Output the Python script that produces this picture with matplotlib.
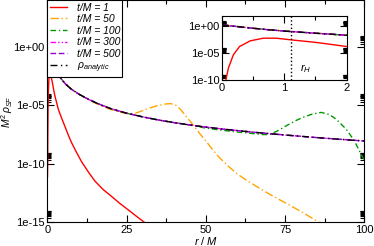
import numpy as np
import matplotlib
matplotlib.use("Agg")
import matplotlib.pyplot as plt
from matplotlib.ticker import FixedLocator, FuncFormatter, MultipleLocator

plt.rcParams['font.family'] = ['Liberation Sans', 'DejaVu Sans']
plt.rcParams['mathtext.fontset'] = 'custom'
plt.rcParams['mathtext.rm'] = 'Liberation Sans'
plt.rcParams['mathtext.it'] = 'Liberation Sans:italic'

# --------------------------------------------------
# Data (log10 of M^2 rho_SF)
# --------------------------------------------------
r_t1 = [0, 0.03, 0.06, 0.1, 0.18, 0.28, 0.45, 0.66, 0.87, 1.1, 1.52, 2.0, 2.4,
        3.4, 4.4, 5.5, 6.5, 7.6, 9.0, 10.8, 13.0, 15.0, 17.5, 20.2, 22.8,
        25.4, 27.8, 30.2, 33.0, 36.0]
log_t1 = [-11.1, -10.6, -10.0, -7.8, -5.3, -3.75, -2.7, -2.2, -2.2, -2.5, -3.0,
          -3.75, -4.25, -5.32, -6.05, -6.8, -7.5, -8.2, -8.95, -9.85, -10.75,
          -11.5, -12.2, -12.8, -13.4, -13.94, -14.45, -14.95, -15.5, -16.1]

r_an = [0, 0.25, 0.5, 0.75, 1, 1.25, 1.5, 1.75, 2, 2.5, 3, 4, 5, 6, 7.5, 10,
        12.5, 15, 17.5, 20, 25, 30, 35, 40, 45, 50, 55, 60, 65, 70, 75, 80,
        85, 90, 95, 100]
log_an = [0.3, -0.05, -0.35, -0.63, -0.87, -1.07, -1.27, -1.45, -1.65, -1.95,
          -2.2, -2.6, -2.95, -3.25, -3.6, -4.05, -4.42, -4.74, -5.03, -5.28,
          -5.67, -5.98, -6.25, -6.48, -6.68, -6.86, -7.02, -7.16, -7.3, -7.42,
          -7.54, -7.65, -7.76, -7.86, -7.96, -8.05]

r_t50 = [0, 0.5, 1, 1.5, 2, 3, 4, 5, 7.5, 10, 15, 20, 22.5, 25, 27.5, 30,
         32.5, 35, 37.5, 39, 40.5, 42, 43.5, 45, 46.5, 48, 50, 52, 54, 57, 60,
         63, 66, 70, 73, 76.4, 80, 85.3, 88]
log_t50 = [0.3, -0.35, -0.87, -1.27, -1.65, -2.2, -2.6, -2.95, -3.6, -4.05,
           -4.8, -5.36, -5.55, -5.7, -5.7, -5.45, -5.2, -5.0, -4.87, -4.85,
           -4.98, -5.35, -5.85, -6.35, -6.85, -7.4, -8.05, -8.75, -9.4, -10.2,
           -10.9, -11.45, -11.95, -12.6, -13.05, -13.55, -14.1, -14.95, -15.4]

r_t100 = [0, 0.5, 1, 1.5, 2, 3, 4, 5, 7.5, 10, 15, 20, 25, 30, 35, 40, 45,
          47.5, 50, 55, 60, 65, 68, 70.1, 72.5, 75.3, 78, 80.6, 83.5, 86.4,
          89, 91.1, 94.3, 96.9, 98.2, 100]
log_t100 = [0.3, -0.35, -0.87, -1.27, -1.65, -2.2, -2.6, -2.95, -3.6, -4.05,
            -4.74, -5.28, -5.67, -5.98, -6.25, -6.48, -6.68, -6.82, -6.95,
            -7.13, -7.28, -7.42, -7.5, -7.5, -7.2, -6.76, -6.35, -6.03, -5.75,
            -5.6, -5.78, -6.18, -7.04, -8.05, -8.77, -9.7]

# t/M = 300 and 500 lie on the analytic profile
r_t300, log_t300 = r_an, log_an
r_t500, log_t500 = r_an, log_an

r_H = 1.1

series = [
    ("t/M = 1", r_t1, log_t1, "#FF0000", "-"),
    ("t/M = 50", r_t50, log_t50, "#FFA500", (0, (6, 2, 1, 2))),
    ("t/M = 100", r_t100, log_t100, "#009900", (0, (4, 2, 1, 2))),
    ("t/M = 300", r_t300, log_t300, "#FF00FF", (0, (4, 1.5, 1, 1.5, 1, 1.5))),
    ("t/M = 500", r_t500, log_t500, "#9400D3", (0, (4, 2))),
    (r"$\rho_{analytic}$", r_an, log_an, "#000000", (0, (5, 2.5, 1, 2.5))),
]


def setup_log_axis(ax, decades):
    ax.set_yscale("log")
    ax.yaxis.set_major_locator(FixedLocator([10.0 ** e for e in decades]))
    ax.yaxis.set_minor_locator(FixedLocator(
        [m * 10.0 ** e for e in decades for m in range(2, 10)]))
    ax.yaxis.set_major_formatter(FuncFormatter(lambda v, p: f"{v:.0e}"))
    ax.tick_params(which="both", direction="in", top=True, right=True,
                   labelsize=8, pad=2, width=0.8)
    ax.tick_params(which="major", length=5)
    ax.tick_params(which="minor", length=3)
    for s in ax.spines.values():
        s.set_linewidth(0.8)


fig = plt.figure(figsize=(3.74, 2.46), dpi=100)
ax = fig.add_axes([0.127, 0.0976, 0.847, 0.9004])

for label, r, lg, c, ls in series:
    ax.plot(r, 10.0 ** np.array(lg), color=c, linestyle=ls, lw=1.0, label=label)

setup_log_axis(ax, [-15, -10, -5, 0])
ax.set_xlim(0, 100)
ax.set_ylim(1e-15, 1e4)
ax.xaxis.set_major_locator(MultipleLocator(25))
ax.xaxis.set_minor_locator(MultipleLocator(12.5))
ax.set_xlabel("$r$ / $M$", fontsize=8, labelpad=0)
ax.set_ylabel(r"$M^2\,\rho_{SF}$", fontsize=7.5)
ax.yaxis.set_label_coords(-0.104, 0.5)

leg = ax.legend(loc="upper left", bbox_to_anchor=(0, 1), borderaxespad=0,
                fontsize=7.5, handlelength=1.7, handletextpad=0.9,
                labelspacing=0.15, borderpad=0.2, fancybox=False,
                framealpha=1, edgecolor="black")
leg.get_frame().set_linewidth(0.8)
for t in leg.get_texts():
    t.set_fontstyle("italic")

# --------------------------------------------------
# Inset: zoom on r < 2
# --------------------------------------------------
axin = fig.add_axes([0.594, 0.6748, 0.3326, 0.2614])
for label, r, lg, c, ls in series:
    axin.plot(r, 10.0 ** np.array(lg), color=c, linestyle=ls, lw=1.0)
axin.axvline(r_H, color="black", linestyle=":", lw=1.0)
setup_log_axis(axin, [-10, -5, 0])
axin.set_xlim(0, 2)
axin.set_ylim(1e-10, 1e2)
axin.xaxis.set_major_locator(MultipleLocator(1))
axin.xaxis.set_minor_locator(MultipleLocator(0.5))
axin.text(1.35, 10 ** -7.8, "$r_H$", fontsize=8, ha="center", va="center")

fig.savefig("out.png", dpi=100)
